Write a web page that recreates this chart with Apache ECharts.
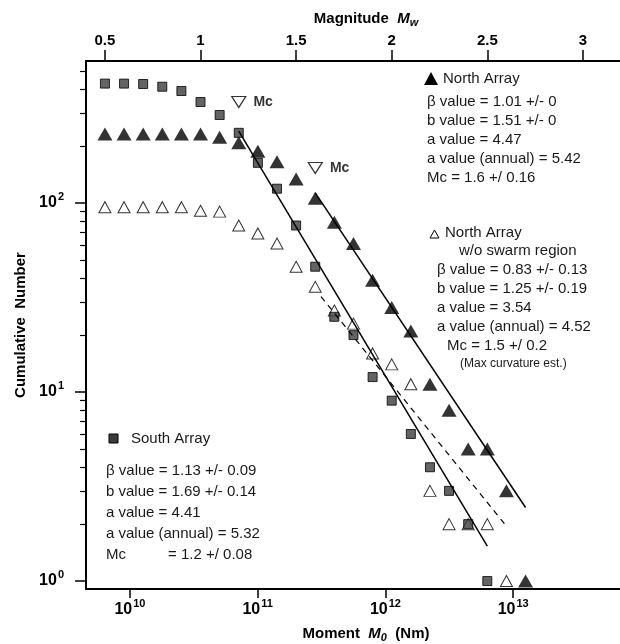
<!DOCTYPE html>
<html>
<head>
<meta charset="utf-8">
<script src="https://cdn.jsdelivr.net/npm/echarts@6/dist/echarts.min.js"></script>
<style>
  html, body { margin: 0; padding: 0; background: #fff; }
  #chart { width: 620px; height: 644px; }
</style>
</head>
<body>
<div id="chart"></div>
<script>
// 震级 Mw（数据点横坐标，0.1 间隔）
let southMw = [0.4, 0.5, 0.6, 0.7, 0.8, 0.9, 1.0, 1.1, 1.2, 1.3, 1.4, 1.5, 1.6, 1.7, 1.8, 1.9, 2.0, 2.1, 2.2, 2.3, 2.4, 2.5]
let southN = [428, 428, 428, 426, 412, 391, 342, 292, 235, 163, 119, 76, 46, 25, 20, 12, 9, 6, 4, 3, 2, 1]

let northMw = [0.4, 0.5, 0.6, 0.7, 0.8, 0.9, 1.0, 1.1, 1.2, 1.3, 1.4, 1.5, 1.6, 1.7, 1.8, 1.9, 2.0, 2.1, 2.2, 2.3, 2.4, 2.5, 2.6, 2.7]
let northN = [232, 232, 232, 232, 232, 232, 232, 223, 208, 188, 165, 134, 106, 79, 61, 39, 28, 21, 11, 8, 5, 5, 3, 1]

let swarmMw = [0.4, 0.5, 0.6, 0.7, 0.8, 0.9, 1.0, 1.1, 1.2, 1.3, 1.4, 1.5, 1.6, 1.7, 1.8, 1.9, 2.0, 2.1, 2.2, 2.3, 2.4, 2.5, 2.6]
let swarmN = [95, 95, 95, 95, 95, 95, 91, 90, 76, 69, 61, 46, 36, 27, 23, 16, 14, 11, 3, 2, 2, 2, 1]

// Mc 标记
let mcMw = [1.2, 1.6]
let mcN = [342, 153]

// 拟合直线的两个端点 [Mw, N]
let southFit = [[1.2, 240], [2.5, 1.53]]
let northFit = [[1.6, 113], [2.7, 2.45]]
let swarmFit = [[1.63, 32], [2.6, 1.95]]

// 刻度
let momentTicks = [1e10, 1e11, 1e12, 1e13]
let mwTicks = [0.5, 1, 1.5, 2, 2.5, 3]
let countTicks = [1, 10, 100]
let countMinor = [2, 3, 4, 5, 6, 7, 8, 9, 20, 30, 40, 50, 60, 70, 80, 90, 200, 300, 400, 500]

let font = 'Liberation Sans, Arial, Helvetica, sans-serif'

function pairs(xs, ys) {
  return xs.map(function(x, i) { return [x, ys[i]] })
}

let supRich = {
  b: { fontSize: 16, fontWeight: 'bold', fontFamily: font, color: '#000' },
  s: { fontSize: 11, fontWeight: 'bold', fontFamily: font, color: '#000', padding: [0, 0, 12, 1] }
}
function powLabel(v) {
  return '{b|10}{s|' + Math.round(Math.log10(v)) + '}'
}

let mychart = echarts.init(document.querySelector('#chart'))

// 注释文字
let textLines = [
  ['North Array', 443, 79],
  ['β value = 1.01 +/- 0', 427, 102],
  ['b value = 1.51 +/- 0', 427, 121],
  ['a value = 4.47', 427, 140],
  ['a value (annual) = 5.42', 427, 159],
  ['Mc = 1.6 +/ 0.16', 427, 178],
  ['North Array', 445, 233],
  ['w/o swarm region', 459, 251],
  ['β value = 0.83 +/- 0.13', 437, 270],
  ['b value = 1.25 +/- 0.19', 437, 289],
  ['a value = 3.54', 437, 308],
  ['a value (annual) = 4.52', 437, 327],
  ['Mc = 1.5 +/ 0.2', 447, 346],
  ['South Array', 131, 439],
  ['β value = 1.13 +/- 0.09', 106, 471],
  ['b value = 1.69 +/- 0.14', 106, 492],
  ['a value = 4.41', 106, 513],
  ['a value (annual) = 5.32', 106, 534],
  ['Mc', 106, 555],
  ['= 1.2 +/ 0.08', 168, 555]
]
let graphics = textLines.map(function(t) {
  return {
    type: 'text',
    x: t[1],
    y: t[2],
    style: { text: t[0], font: '15px ' + font, fill: '#1a1a1a', verticalAlign: 'middle' }
  }
})
graphics.push({
  type: 'text', x: 460, y: 364,
  style: { text: '(Max curvature est.)', font: '12px ' + font, fill: '#1a1a1a', verticalAlign: 'middle' }
})
// 图例符号
graphics.push({ type: 'polygon', shape: { points: [[424, 85], [438, 85], [431, 72]] }, style: { fill: '#000' } })
graphics.push({ type: 'polygon', shape: { points: [[430, 238], [439, 238], [434.5, 230]] }, style: { fill: '#fff', stroke: '#000', lineWidth: 1 } })
graphics.push({ type: 'rect', shape: { x: 109, y: 434, width: 9, height: 9 }, style: { fill: '#3c3c3c', stroke: '#000', lineWidth: 1 } })

let nameRich = {
  b: { fontSize: 15, fontWeight: 'bold', fontFamily: font, color: '#000' },
  i: { fontSize: 15, fontWeight: 'bold', fontStyle: 'italic', fontFamily: font, color: '#000' },
  sub: { fontSize: 11, fontWeight: 'bold', fontStyle: 'italic', fontFamily: font, color: '#000', padding: [8, 0, 0, 0] }
}

let option = {
  animation: false,
  backgroundColor: '#fff',
  grid: { left: 86, top: 61, width: 560, height: 528, containLabel: false, outerBoundsMode: 'none' },
  xAxis: [
    {
      type: 'log',
      position: 'bottom',
      min: Math.pow(10, 9.656),
      max: Math.pow(10, 14.04),
      name: '{b|Moment  }{i|M}{sub|0}{b|  (Nm)}',
      nameLocation: 'middle',
      nameGap: 35,
      nameTextStyle: { rich: nameRich },
      axisLine: { lineStyle: { color: '#000', width: 2 } },
      axisTick: { inside: false, length: 9, lineStyle: { color: '#000', width: 1.5 }, customValues: momentTicks },
      axisLabel: { margin: 9, customValues: momentTicks, formatter: powLabel, rich: supRich },
      splitLine: { show: false },
      minorTick: { show: false }
    },
    {
      type: 'value',
      position: 'top',
      min: 0.401,
      max: 3.33,
      name: '{b|Magnitude  }{i|M}{sub|w}',
      nameLocation: 'middle',
      nameGap: 33,
      nameTextStyle: { rich: nameRich },
      axisLine: { lineStyle: { color: '#000', width: 2 } },
      axisTick: { inside: false, length: 11, lineStyle: { color: '#000', width: 1.5 }, customValues: mwTicks },
      axisLabel: { margin: 13, customValues: mwTicks, color: '#000', fontSize: 15, fontWeight: 'bold', fontFamily: font },
      splitLine: { show: false }
    }
  ],
  yAxis: [
    {
      type: 'log',
      position: 'left',
      min: Math.pow(10, -0.042),
      max: Math.pow(10, 2.751),
      name: 'Cumulative  Number',
      nameLocation: 'middle',
      nameGap: 54,
      nameTextStyle: { fontSize: 15, fontWeight: 'bold', fontFamily: font, color: '#000' },
      axisLine: { show: true, lineStyle: { color: '#000', width: 2 } },
      axisTick: { inside: false, length: 11, lineStyle: { color: '#000', width: 1.5 }, customValues: countTicks },
      axisLabel: { margin: 22, customValues: countTicks, formatter: powLabel, rich: supRich },
      splitLine: { show: false }
    },
    {
      // 对数次刻度
      type: 'log',
      position: 'left',
      min: Math.pow(10, -0.042),
      max: Math.pow(10, 2.751),
      axisLine: { show: false },
      axisTick: { inside: false, length: 6, lineStyle: { color: '#000', width: 1.2 }, customValues: countMinor },
      axisLabel: { show: false },
      splitLine: { show: false }
    }
  ],
  graphic: graphics,
  series: [
    {
      name: 'North Array',
      type: 'scatter',
      xAxisIndex: 1,
      symbol: 'triangle',
      symbolSize: [15, 13],
      itemStyle: { color: '#000' },
      data: pairs(northMw, northN),
      z: 2
    },
    {
      name: 'North Array w/o swarm',
      type: 'scatter',
      xAxisIndex: 1,
      symbol: 'triangle',
      symbolSize: [12, 11],
      itemStyle: { color: '#fff', borderColor: '#000', borderWidth: 1 },
      data: pairs(swarmMw, swarmN),
      z: 3
    },
    {
      name: 'South Array',
      type: 'scatter',
      xAxisIndex: 1,
      symbol: 'rect',
      symbolSize: 9,
      itemStyle: { color: '#3c3c3c', borderColor: '#000', borderWidth: 1 },
      data: pairs(southMw, southN),
      z: 4
    },
    {
      name: 'Mc',
      type: 'scatter',
      xAxisIndex: 1,
      symbol: 'triangle',
      symbolRotate: 180,
      symbolSize: [14, 11],
      itemStyle: { color: '#fff', borderColor: '#000', borderWidth: 1.2 },
      label: {
        show: true,
        position: 'right',
        distance: 7,
        formatter: 'Mc',
        color: '#000',
        fontSize: 14,
        fontWeight: 'bold',
        fontFamily: font
      },
      data: pairs(mcMw, mcN),
      z: 4
    },
    {
      type: 'line',
      xAxisIndex: 1,
      symbol: 'none',
      lineStyle: { color: '#000', width: 1.5 },
      data: southFit,
      z: 5
    },
    {
      type: 'line',
      xAxisIndex: 1,
      symbol: 'none',
      lineStyle: { color: '#000', width: 1.5 },
      data: northFit,
      z: 5
    },
    {
      type: 'line',
      xAxisIndex: 1,
      symbol: 'none',
      lineStyle: { color: '#000', width: 1.2, type: [6, 5] },
      data: swarmFit,
      z: 5
    }
  ]
}
mychart.setOption(option)
</script>
</body>
</html>
